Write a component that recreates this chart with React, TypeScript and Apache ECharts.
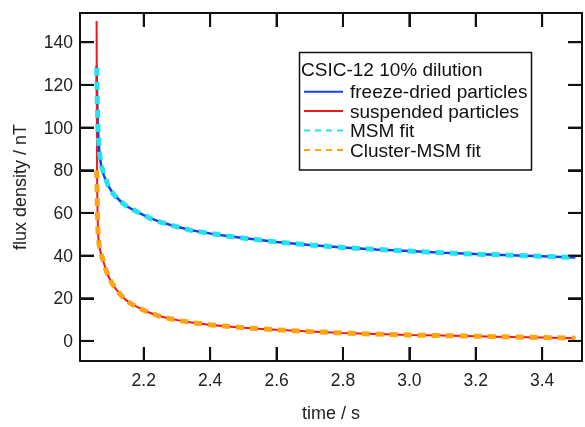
import React, { useEffect, useRef } from "react";
import * as echarts from "echarts";

const xTicks = [2.2, 2.4, 2.6, 2.8, 3.0, 3.2, 3.4];
const yTicks = [0, 20, 40, 60, 80, 100, 120, 140];

const freezeDried: [number, number][] = [
  [2.058, 129], [2.0585, 122], [2.0595, 115], [2.0605, 108], [2.0615, 101.5],
  [2.0635, 95], [2.0665, 88], [2.072, 82], [2.08, 77.5], [2.09, 73.5],
  [2.103, 70.2], [2.12, 67], [2.133, 65], [2.15, 63], [2.173, 61],
  [2.2, 59], [2.223, 57.3], [2.25, 55.8], [2.283, 54.2], [2.343, 51.9],
  [2.403, 50.3], [2.45, 49.2], [2.5, 48.2], [2.55, 47.3], [2.6, 46.4],
  [2.7, 45.0], [2.8, 43.8], [2.9, 42.9], [3.0, 42.1], [3.1, 41.3],
  [3.2, 40.7], [3.3, 40.2], [3.4, 39.7], [3.5, 39.1],
];

const suspended: [number, number][] = [
  [2.058, 150], [2.0585, 120], [2.059, 96], [2.0595, 80], [2.0598, 72],
  [2.0605, 64], [2.0615, 56], [2.063, 49], [2.066, 44.5], [2.07, 41.5],
  [2.078, 37.5], [2.085, 33.8], [2.093, 30.4], [2.103, 27.4], [2.113, 25],
  [2.128, 22], [2.143, 19.6], [2.16, 17.6], [2.183, 15.7], [2.21, 13.7],
  [2.243, 11.8], [2.28, 10.4], [2.313, 9.4], [2.36, 8.3], [2.403, 7.5],
  [2.5, 6.2], [2.6, 5.2], [2.7, 4.4], [2.8, 3.7], [2.9, 3.2], [3.0, 2.8],
  [3.1, 2.5], [3.2, 2.2], [3.3, 1.9], [3.4, 1.6], [3.5, 1.3],
];

const msmFit: [number, number][] = [
  [2.0585, 128], [2.059, 122], [2.0598, 115], [2.0608, 108], [2.0618, 101.3],
  [2.0638, 94.8], [2.0668, 88], [2.073, 81.5], [2.083, 77], [2.093, 72.8],
  [2.103, 70], [2.118, 67.2], [2.133, 65], [2.15, 63], [2.173, 61.1],
  [2.2, 59], [2.223, 57.2], [2.25, 55.7], [2.283, 54.2], [2.343, 51.8],
  [2.403, 50.3], [2.45, 49.2], [2.5, 48.2], [2.55, 47.3], [2.6, 46.4],
  [2.7, 45.0], [2.8, 43.8], [2.9, 42.9], [3.0, 42.1], [3.1, 41.3],
  [3.2, 40.7], [3.3, 40.2], [3.4, 39.7], [3.5, 39.1],
];

const clusterFit: [number, number][] = [
  [2.0585, 80], [2.0592, 72], [2.0602, 64], [2.0612, 56], [2.0628, 49],
  [2.066, 44.5], [2.07, 41.5], [2.078, 37.5], [2.085, 33.8], [2.093, 30.3],
  [2.103, 27.4], [2.113, 24.9], [2.128, 22], [2.143, 19.5], [2.16, 17.6],
  [2.183, 15.6], [2.21, 13.7], [2.243, 11.8], [2.28, 10.4], [2.313, 9.4],
  [2.36, 8.3], [2.403, 7.5], [2.5, 6.2], [2.6, 5.2], [2.7, 4.4], [2.8, 3.7],
  [2.9, 3.2], [3.0, 2.8], [3.1, 2.5], [3.2, 2.2], [3.3, 1.9], [3.4, 1.6],
  [3.5, 1.3],
];

const legendTitle = "CSIC-12 10% dilution";
const seriesNames = ["freeze-dried particles", "suspended particles", "MSM fit", "Cluster-MSM fit"];
const colors = ["#1a3cf0", "#f01818", "#22e4ee", "#ffa512"];

const FONT = "Liberation Sans, Arial, sans-serif";

export default function App() {
  const ref = useRef<HTMLDivElement>(null);
  useEffect(() => {
    if (!ref.current) return;
    const chart = echarts.init(ref.current, undefined, { renderer: "svg" });
    const xMin = 2.008, xMax = 3.52, yMin = -9.4, yMax = 153.7;
    const T = 14;
    const mkLine = () => ({ show: true, onZero: false, lineStyle: { color: "#111", width: 2 } });
    const mkTick = () => ({ show: true, inside: true, length: T, lineStyle: { color: "#111", width: 2 } });
    const xLabel = (v: number) => {
      const hit = xTicks.find((t) => Math.abs(t - v) < 1e-6);
      return hit === undefined ? "" : hit.toFixed(1);
    };
    const yLabel = (v: number) => {
      const hit = yTicks.find((t) => Math.abs(t - v) < 1e-6);
      return hit === undefined ? "" : String(hit);
    };

    const legendRows = [91.7, 111, 130.5, 150];
    const legendGraphics: any[] = [
      { type: "rect", shape: { x: 299.5, y: 52.5, width: 232, height: 117.5 }, style: { fill: "#fff", stroke: "#111", lineWidth: 1.5 }, z: 100 },
      { type: "text", x: 301, y: 69, style: { text: legendTitle, font: `19px ${FONT}`, fill: "#111", verticalAlign: "middle" }, z: 101 },
    ];
    seriesNames.forEach((n, i) => {
      const st: any = { stroke: colors[i], lineWidth: 2 };
      if (i >= 2) st.lineDash = [6, 5];
      legendGraphics.push({
        type: "line", shape: { x1: 304, y1: legendRows[i], x2: 343, y2: legendRows[i] },
        style: st, z: 101,
      });
      legendGraphics.push({
        type: "text", x: 350, y: legendRows[i],
        style: { text: n, font: `19px ${FONT}`, fill: "#111", verticalAlign: "middle" }, z: 101,
      });
    });

    const tickLine = (x1: number, y1: number, x2: number, y2: number) => ({
      type: "line", shape: { x1, y1, x2, y2 }, style: { stroke: "#111", lineWidth: 2 },
    });

    chart.setOption({
      animation: false,
      grid: { left: 80, top: 13, right: 1, bottom: 61 },
      xAxis: [
        {
          type: "value", position: "bottom", min: xMin, max: xMax, splitNumber: 7,
          axisLine: mkLine(), axisTick: mkTick(), splitLine: { show: false },
          axisLabel: { formatter: xLabel, fontSize: 17.5, color: "#222", margin: 10, fontFamily: FONT },
          name: "time / s", nameLocation: "middle", nameGap: 43,
          nameTextStyle: { fontSize: 18, color: "#222", fontFamily: FONT },
        },
        {
          type: "value", position: "top", min: xMin, max: xMax, splitNumber: 7,
          axisLine: mkLine(), axisTick: mkTick(), splitLine: { show: false },
          axisLabel: { show: false },
        },
      ],
      yAxis: [
        {
          type: "value", position: "left", min: yMin, max: yMax, splitNumber: 8,
          axisLine: mkLine(), axisTick: mkTick(), splitLine: { show: false },
          axisLabel: { formatter: yLabel, fontSize: 17.5, color: "#222", margin: 7, fontFamily: FONT },
          name: "flux density / nT", nameLocation: "middle", nameGap: 51,
          nameTextStyle: { fontSize: 18, color: "#222", fontFamily: FONT },
        },
        {
          type: "value", position: "right", min: yMin, max: yMax, splitNumber: 8,
          axisLine: mkLine(), axisTick: mkTick(), splitLine: { show: false },
          axisLabel: { show: false },
        },
      ],
      series: [
        { name: seriesNames[0], type: "line", data: freezeDried, showSymbol: false, symbol: "none", lineStyle: { color: colors[0], width: 2.5 }, z: 2 },
        { name: seriesNames[1], type: "line", data: suspended, showSymbol: false, symbol: "none", lineStyle: { color: colors[1], width: 2 }, z: 3 },
        { name: seriesNames[2], type: "line", data: msmFit, showSymbol: false, symbol: "none", lineStyle: { color: colors[2], width: 5, type: [8, 6], cap: "butt" }, z: 4 },
        { name: seriesNames[3], type: "line", data: clusterFit, showSymbol: false, symbol: "none", lineStyle: { color: colors[3], width: 5, type: [8, 6], cap: "butt" }, z: 5 },
        {
          type: "custom", silent: true, clip: false, z: 6,
          data: xTicks.map((t) => [t, 0]),
          renderItem: (_p: any, api: any) => {
            const v = api.value(0);
            const b = api.coord([v, yMin]);
            const tp = api.coord([v, yMax]);
            return { type: "group", children: [tickLine(b[0], b[1], b[0], b[1] - T), tickLine(tp[0], tp[1], tp[0], tp[1] + T)] };
          },
        },
        {
          type: "custom", silent: true, clip: false, z: 6,
          data: yTicks.map((t) => [xMin, t]),
          renderItem: (_p: any, api: any) => {
            const v = api.value(1);
            const l = api.coord([xMin, v]);
            const r = api.coord([xMax, v]);
            return { type: "group", children: [tickLine(l[0], l[1], l[0] + T, l[1]), tickLine(r[0], r[1], r[0] - T, r[1])] };
          },
        },
      ],
      graphic: legendGraphics,
    });
    return () => chart.dispose();
  }, []);
  return <div ref={ref} style={{ position: "fixed", left: 0, top: 0, width: 585, height: 427 }} />;
}
